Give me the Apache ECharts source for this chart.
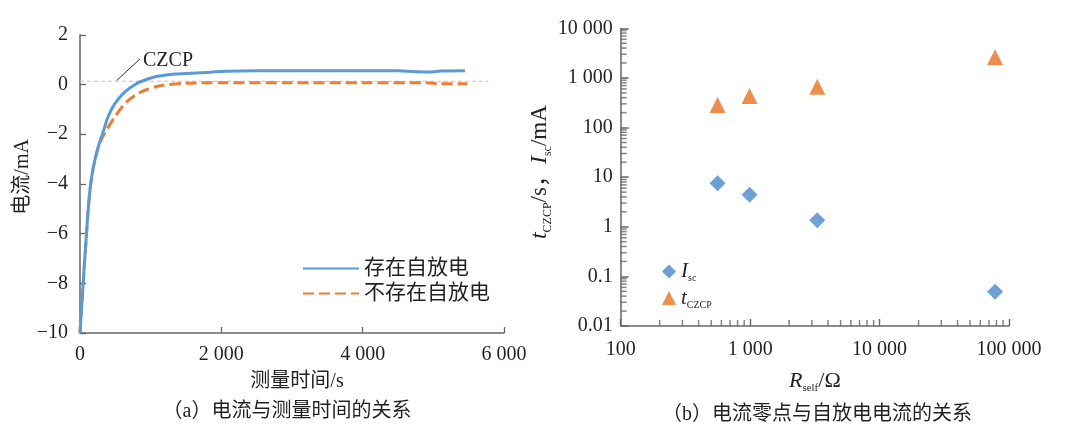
<!DOCTYPE html>
<html>
<head>
<meta charset="utf-8">
<script src="https://cdn.jsdelivr.net/npm/echarts@6/dist/echarts.min.js"></script>
<style>
html,body{margin:0;padding:0;background:#fff;}
#main{width:1069px;height:432px;}
</style>
</head>
<body>
<div id="main"></div>
<script>
// ---- Panel (a): current vs measuring time ----
const timeBlue = [0, 20, 45, 68, 92, 117, 147, 184, 231, 268, 326, 396, 491, 632, 797, 938, 1100, 1344, 1700, 2076, 2500, 3000, 3500, 4000, 4500, 4800, 4950, 5100, 5448];
const currentBlue = [-10, -9.1, -8.0, -7.0, -6.0, -5.0, -4.1, -3.4, -2.8, -2.42, -1.92, -1.31, -0.78, -0.31, 0.03, 0.2, 0.33, 0.42, 0.47, 0.53, 0.55, 0.55, 0.55, 0.55, 0.55, 0.51, 0.50, 0.54, 0.55];
const timeOrange = [0, 20, 45, 68, 92, 117, 147, 184, 231, 265, 302, 372, 491, 632, 797, 938, 1156, 1486, 2000, 3000, 4000, 4900, 5100, 5480];
const currentOrange = [-10, -9.1, -8.0, -7.0, -6.0, -5.0, -4.1, -3.4, -2.8, -2.48, -2.22, -1.85, -1.31, -0.78, -0.40, -0.21, -0.04, 0.05, 0.07, 0.07, 0.07, 0.07, 0.03, 0.03];
const refLineTime = [0, 5780];
const refLineCurrent = [0.13, 0.13];
const czcpLeaderTime = [519, 849];
const czcpLeaderCurrent = [0.16, 1.03];
const seriesNamesA = ['存在自放电', '不存在自放电'];

// ---- Panel (b): zero-point time & self-discharge current vs R_self ----
const rSelf = [560, 990, 3300, 78000];
const iSc = [7.5, 4.4, 1.36, 0.049];
const tCzcp = [284, 431, 665, 2600];

// minor log tick values (2..9 of each decade)
const xMinorTicks = [200, 300, 400, 500, 600, 700, 800, 900, 2000, 3000, 4000, 5000, 6000, 7000, 8000, 9000, 20000, 30000, 40000, 50000, 60000, 70000, 80000, 90000];
const yMinorTicks = [0.02, 0.03, 0.04, 0.05, 0.06, 0.07, 0.08, 0.09, 0.2, 0.3, 0.4, 0.5, 0.6, 0.7, 0.8, 0.9, 2, 3, 4, 5, 6, 7, 8, 9, 20, 30, 40, 50, 60, 70, 80, 90, 200, 300, 400, 500, 600, 700, 800, 900, 2000, 3000, 4000, 5000, 6000, 7000, 8000, 9000];

const zip = (a, b) => a.map((v, i) => [v, b[i]]);
const SERIF = '"Liberation Serif","Noto Sans CJK SC",serif';
const TXT = '#231f20';
const AX = '#666666';

function spaced(n) {
  const s = String(Math.round(Math.abs(n)));
  const out = s.replace(/\B(?=(\d{3})+(?!\d))/g, ' ');
  return (n < 0 ? '\u2212' : '') + out;
}
function logLabel(v) {
  if (v >= 1) return spaced(v);
  return String(+v.toPrecision(1));
}

const chart = echarts.init(document.getElementById('main'), null, {renderer: 'canvas'});

const axisLineStyle = {onZero: false, lineStyle: {color: AX, width: 1.5}};
const tickStyle = {inside: true, length: 6, lineStyle: {color: AX, width: 1.3}};
const labelStyle = {color: TXT, fontFamily: SERIF, fontSize: 20};

const option = {
  backgroundColor: '#ffffff',
  animation: false,
  textStyle: {fontFamily: SERIF},
  grid: [
    {left: 80, top: 34.8, width: 424, height: 298.2},
    {left: 620.7, top: 28.3, width: 388.3, height: 297.7}
  ],
  xAxis: [
    {
      gridIndex: 0, type: 'value', min: 0, max: 6000, interval: 2000,
      axisLine: axisLineStyle, axisTick: tickStyle,
      axisLabel: Object.assign({margin: 12, formatter: v => spaced(v)}, labelStyle),
      splitLine: {show: false},
      name: '测量时间/s', nameLocation: 'middle', nameGap: 39,
      nameTextStyle: {color: TXT, fontFamily: SERIF, fontSize: 20, padding: [0, 0, 0, 10]}
    },
    {
      gridIndex: 1, type: 'log', logBase: 10, min: 100, max: 100000,
      axisLine: axisLineStyle, axisTick: {inside: true, length: 7, lineStyle: {color: AX, width: 1.4}},
      axisLabel: Object.assign({margin: 14, formatter: v => logLabel(v)}, labelStyle),
      splitLine: {show: false},
      name: '{r|R}{s|self}{n|/Ω}', nameLocation: 'middle', nameGap: 42,
      nameTextStyle: {
        color: TXT, fontFamily: SERIF, fontSize: 20,
        rich: {
          r: {fontFamily: SERIF, fontStyle: 'italic', fontSize: 22, color: TXT, lineHeight: 26},
          s: {fontFamily: SERIF, fontSize: 11, color: TXT, verticalAlign: 'bottom'},
          n: {fontFamily: SERIF, fontSize: 22, color: TXT, lineHeight: 26}
        }
      }
    }
  ],
  yAxis: [
    {
      gridIndex: 0, type: 'value', min: -10, max: 2, interval: 2,
      axisLine: axisLineStyle, axisTick: tickStyle,
      axisLabel: Object.assign({margin: 12, formatter: v => spaced(v)}, labelStyle),
      splitLine: {show: false},
      name: '电流/mA', nameLocation: 'middle', nameGap: 45, nameRotate: 90,
      nameTextStyle: {color: TXT, fontFamily: SERIF, fontSize: 20, padding: [0, 0, 0, 14]}
    },
    {
      gridIndex: 1, type: 'log', logBase: 10, min: 0.01, max: 10000,
      axisLine: axisLineStyle, axisTick: {inside: true, length: 8, lineStyle: {color: AX, width: 1.5}},
      axisLabel: Object.assign({margin: 8, formatter: v => logLabel(v)}, labelStyle),
      splitLine: {show: false},
      name: '{t|t}{s|CZCP}{n|/s，}{t|I}{s|sc}{n|/mA}', nameLocation: 'middle', nameGap: 54, nameRotate: 90,
      nameTextStyle: {
        color: TXT, fontFamily: SERIF, fontSize: 22, padding: [0, 0, 0, 10],
        rich: {
          t: {fontFamily: SERIF, fontStyle: 'italic', fontSize: 24, color: TXT, lineHeight: 28},
          s: {fontFamily: SERIF, fontSize: 12, color: TXT, verticalAlign: 'bottom'},
          n: {fontFamily: SERIF, fontSize: 23, color: TXT, lineHeight: 28}
        }
      }
    }
  ],
  legend: [
    {
      orient: 'vertical', left: 297, top: 253, itemWidth: 56, itemHeight: 14, itemGap: 4,
      data: seriesNamesA, itemStyle: {opacity: 0},
      textStyle: {color: TXT, fontFamily: SERIF, fontSize: 21}
    },
    {
      orient: 'vertical', left: 657, top: 256, itemWidth: 14, itemHeight: 14, itemGap: 4,
      data: ['Isc', 'tCZCP'],
      formatter: n => n === 'Isc' ? '{i|I}{s|sc}' : '{i|t}{s|CZCP}',
      textStyle: {
        color: TXT, fontFamily: SERIF, fontSize: 20,
        rich: {
          i: {fontFamily: SERIF, fontStyle: 'italic', fontSize: 21, color: TXT, lineHeight: 24},
          s: {fontFamily: SERIF, fontSize: 10, color: TXT, verticalAlign: 'bottom'}
        }
      }
    }
  ],
  series: [
    {
      name: 'ref', type: 'line', xAxisIndex: 0, yAxisIndex: 0, data: zip(refLineTime, refLineCurrent),
      symbol: 'none', silent: true, lineStyle: {color: '#c4c4c4', width: 1.2, type: [4, 3]}, z: 1
    },
    {
      name: seriesNamesA[0], type: 'line', xAxisIndex: 0, yAxisIndex: 0, data: zip(timeBlue, currentBlue),
      symbol: 'none', smooth: 0.3, color: '#5b9bd5', lineStyle: {color: '#5b9bd5', width: 3}, z: 3
    },
    {
      name: seriesNamesA[1], type: 'line', xAxisIndex: 0, yAxisIndex: 0, data: zip(timeOrange, currentOrange),
      symbol: 'none', smooth: 0.3, color: '#ed7d31', lineStyle: {color: '#ed7d31', width: 3, type: [11, 5]}, z: 2
    },
    {
      name: 'czcp', type: 'line', xAxisIndex: 0, yAxisIndex: 0, data: zip(czcpLeaderTime, czcpLeaderCurrent),
      symbol: 'none', silent: true, lineStyle: {color: '#333', width: 1},
      endLabel: {show: true, formatter: 'CZCP', color: TXT, fontFamily: SERIF, fontSize: 20, distance: 3, offset: [0, 2]}
    },
    {
      name: 'Isc', type: 'scatter', xAxisIndex: 1, yAxisIndex: 1, data: zip(rSelf, iSc),
      symbol: 'diamond', symbolSize: 16, itemStyle: {color: '#4a88c9'}, z: 5
    },
    {
      name: 'tCZCP', type: 'scatter', xAxisIndex: 1, yAxisIndex: 1, data: zip(rSelf, tCzcp),
      symbol: 'triangle', symbolSize: 16, itemStyle: {color: '#e8721f'}, z: 5
    },
    {
      name: 'xminor', type: 'scatter', xAxisIndex: 1, yAxisIndex: 1, silent: true,
      data: xMinorTicks.map(v => [v, 0.01]),
      symbol: 'rect', symbolSize: [1.5, 6], symbolOffset: [0, -3],
      itemStyle: {color: AX}, z: 4
    },
    {
      name: 'yminor', type: 'scatter', xAxisIndex: 1, yAxisIndex: 1, silent: true,
      data: yMinorTicks.map(v => [100, v]),
      symbol: 'rect', symbolSize: [6, 1.5], symbolOffset: [3, 0],
      itemStyle: {color: AX}, z: 4
    }
  ],
  graphic: [
    {type: 'text', x: 287, y: 412, style: {text: '（a）电流与测量时间的关系', font: '20px ' + SERIF, fill: TXT, textAlign: 'center', textVerticalAlign: 'middle'}},
    {type: 'text', x: 817, y: 415, style: {text: '（b）电流零点与自放电电流的关系', font: '20px ' + SERIF, fill: TXT, textAlign: 'center', textVerticalAlign: 'middle'}}
  ]
};
chart.setOption(option);
</script>
</body>
</html>
